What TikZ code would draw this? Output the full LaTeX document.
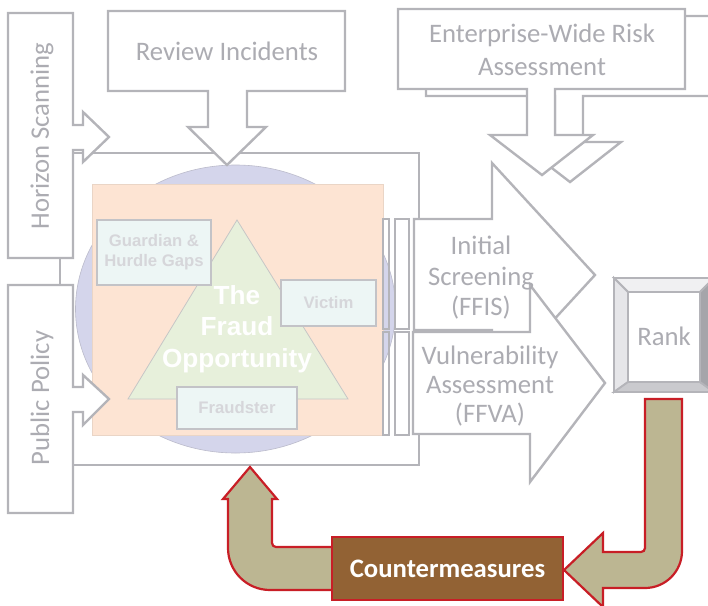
\documentclass[tikz,border=0pt]{standalone}
\usepackage{fontspec}
\setmainfont{Carlito}
\newfontfamily\arialf{Liberation Sans}
\definecolor{lg}{RGB}{180,180,185}
\definecolor{tg}{RGB}{172,172,178}
\definecolor{lav}{RGB}{212,213,235}
\definecolor{peach}{RGB}{253,228,211}
\definecolor{trig}{RGB}{231,240,219}
\definecolor{bx}{RGB}{237,246,245}
\definecolor{bxt}{RGB}{214,214,218}
\definecolor{tanf}{RGB}{188,182,146}
\definecolor{redb}{RGB}{200,30,38}
\definecolor{brownf}{RGB}{146,98,52}
\tikzset{
  shapeline/.style={draw=lg, line width=2.4pt, fill=white, line join=miter},
  stripe/.style={draw=lg, line width=2.4pt},
  maintext/.style={text=tg, font=\fontsize{26.7}{31}\selectfont, align=center, inner sep=0pt},
  smallbox/.style={draw=lg!80, line width=1.4pt, fill=bx},
  smalltext/.style={text=bxt, font=\arialf\bfseries\fontsize{16.7}{20}\selectfont, align=center, inner sep=0pt},
  uarrow/.style={draw=redb, line width=2.2pt, fill=tanf, line join=miter},
}
\begin{document}
\begin{tikzpicture}[x=1pt,y=-1pt]
\useasboundingbox (0,0) rectangle (708,605);
\clip (0,0) rectangle (708,605);

% container
\draw[shapeline] (60,153) rectangle (419,465);
% ellipse, peach square, triangle
\draw[fill=lav, draw=lav!70!gray, line width=0.6pt] (235.5,309) ellipse [x radius=160, y radius=144];
\draw[fill=peach, draw=peach!85!gray, line width=0.6pt] (92,184) rectangle (383,435);
\draw[fill=trig, draw=gray!45, line width=0.8pt] (237,220) -- (348,399) -- (128,399) -- cycle;
\node[smalltext, text=white, font=\arialf\bfseries\fontsize{26.2}{31.5}\selectfont] (fraud) at (237,329) {The\\Fraud\\Opportunity};
\draw[smallbox] (97,220) rectangle (211,285);
\node[smalltext] (guard) at (154,252) {Guardian \&\\Hurdle Gaps};
\draw[smallbox] (281,280) rectangle (376,326);
\node[smalltext] (victim) at (328.5,303) {Victim};
\draw[smallbox] (177,387) rectangle (297,429);
\node[smalltext] (fraudster) at (237,408) {Fraudster};

% striped arrows
\draw[stripe] (383,219) rectangle (389,329);
\draw[stripe] (395,219) rectangle (409,329);
\draw[shapeline] (414,219) -- (492,219) -- (492,163) -- (595,275) -- (492,387) -- (492,330) -- (414,330) -- cycle;
\draw[stripe] (383,332) rectangle (389,435);
\draw[stripe] (395,332) rectangle (409,435);
\draw[shapeline] (413,332) -- (530,332) -- (530,285) -- (605,383) -- (530,482) -- (530,434) -- (413,434) -- cycle;
\node[maintext, font=\fontsize{26.7}{30.5}\selectfont] (ffis) at (481,278) {Initial\\Screening\\(FFIS)};
\node[maintext, font=\fontsize{26.7}{29}\selectfont] (ffva) at (490,386) {Vulnerability\\Assessment\\(FFVA)};

% left callouts
\draw[shapeline] (8,13) -- (73,13) -- (73,125) -- (83,125) -- (83,112) -- (109,137) -- (83,162) -- (83,150) -- (73,150) -- (73,258) -- (8,258) -- cycle;
\node[maintext, rotate=90] (hs) at (42,136) {Horizon Scanning};
\draw[shapeline] (8,285) -- (73,285) -- (73,387) -- (83,387) -- (83,375) -- (109,399) -- (83,425) -- (83,412) -- (73,412) -- (73,513) -- (8,513) -- cycle;
\node[maintext, rotate=90] (pp) at (42,398) {Public Policy};

% top callouts
\draw[shapeline] (108,11) -- (345,11) -- (345,91) -- (247,91) -- (247,127) -- (266,127) -- (227,165) -- (188,127) -- (208,127) -- (208,91) -- (108,91) -- cycle;
\node[maintext] (ri) at (227,51) {Review Incidents};
\begin{scope}[shift={(28,7)}]
\draw[shapeline] (398,9) -- (685,9) -- (685,89) -- (555,89) -- (555,135) -- (593,135) -- (542,175) -- (490,135) -- (527,135) -- (527,89) -- (398,89) -- cycle;
\end{scope}
\draw[shapeline] (398,9) -- (685,9) -- (685,89) -- (555,89) -- (555,135) -- (593,135) -- (542,175) -- (490,135) -- (527,135) -- (527,89) -- (398,89) -- cycle;
\node[maintext, font=\fontsize{26.7}{33}\selectfont] (ewra) at (542,50) {Enterprise-Wide Risk\\Assessment};

% Rank bevel box
\draw[draw=lg, line width=1.8pt, fill={rgb,255:red,240;green,240;blue,242}] (614,278) -- (714,278) -- (700,292) -- (628,292) -- cycle;
\draw[draw=lg, line width=1.8pt, fill={rgb,255:red,230;green,230;blue,233}] (614,278) -- (628,292) -- (628,382) -- (614,392) -- cycle;
\draw[draw=lg, line width=1.8pt, fill={rgb,255:red,202;green,202;blue,206}] (614,392) -- (628,382) -- (700,382) -- (714,392) -- cycle;
\draw[draw=lg, line width=1.8pt, fill={rgb,255:red,165;green,165;blue,170}] (714,278) -- (700,292) -- (700,382) -- (714,392) -- cycle;
\draw[draw=lg, line width=1.8pt, fill=white] (628,292) rectangle (700,382);
\node[maintext] (rank) at (664,336) {Rank};

% U arrows
\draw[uarrow] (333,547) -- (276,547) arc[start angle=90, end angle=180, radius=4] -- (272,499) -- (277,499) -- (250,467) -- (223,499) -- (228,499) -- (228,548) arc[start angle=180, end angle=90, radius=42] -- (333,590) -- cycle;
\draw[uarrow] (645,399) -- (682,399) -- (682,551) arc[start angle=0, end angle=90, radius=37] -- (603,588) -- (603,607) -- (564,570) -- (603,533) -- (603,552) -- (641,552) arc[start angle=90, end angle=0, radius=4] -- cycle;

% Countermeasures
\node[draw=redb, line width=2pt, fill=brownf, minimum width=231pt, minimum height=63pt, inner sep=0pt, text=white, font=\bfseries\fontsize{26.7}{31}\selectfont] (cm) at (447.5,568.5) {Countermeasures};
\end{tikzpicture}
\end{document}
